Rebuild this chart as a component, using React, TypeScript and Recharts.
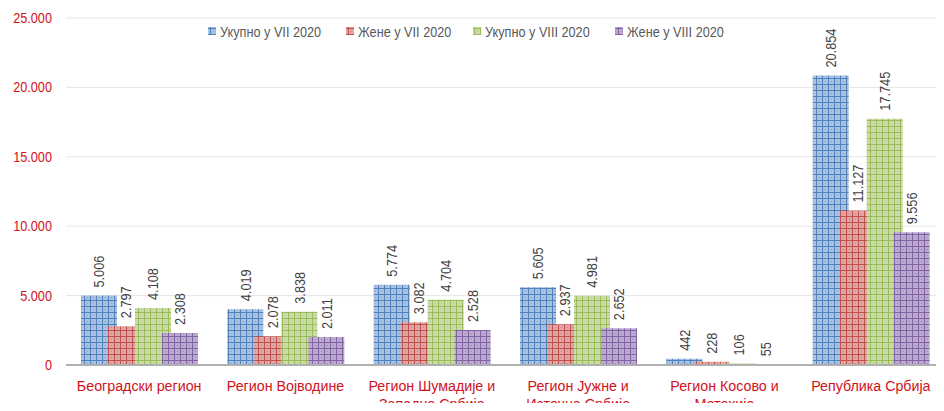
import * as React from 'react';
import { BarChart, Bar, CartesianGrid, XAxis, YAxis, Legend, LabelList } from 'recharts';

const regions = [
  'Београдски регион',
  'Регион Војводине',
  'Регион Шумадије и|Западне Србије',
  'Регион Јужне и|Источне Србије',
  'Регион Косово и|Метохија',
  'Република Србија',
];
const totalJul = [5006, 4019, 5774, 5605, 442, 20854];
const womenJul = [2797, 2078, 3082, 2937, 228, 11127];
const totalAug = [4108, 3838, 4704, 4981, 106, 17745];
const womenAug = [2308, 2011, 2528, 2652, 55, 9556];
const yTicks = [0, 5000, 10000, 15000, 20000, 25000];

const series = [
  { key: 'totalJul', name: 'Укупно у VII 2020', line: '#4f81bd', bg: '#a9c2e2', lx: 208 },
  { key: 'womenJul', name: 'Жене у VII 2020', line: '#c0504d', bg: '#e0a6a4', lx: 346 },
  { key: 'totalAug', name: 'Укупно у VIII 2020', line: '#9bbb59', bg: '#cadda8', lx: 473 },
  { key: 'womenAug', name: 'Жене у VIII 2020', line: '#8064a2', bg: '#bcaad2', lx: 615 },
];

const data = regions.map((region, i) => ({
  region,
  totalJul: totalJul[i],
  womenJul: womenJul[i],
  totalAug: totalAug[i],
  womenAug: womenAug[i],
}));

const font = "'Liberation Sans', Arial, sans-serif";
const red = '#d0121b';
const fmt = (v: number) => v.toString().replace(/\B(?=(\d{3})+(?!\d))/g, '.');

// narrow look: squeeze Liberation Sans horizontally
const RegionTick = (props: any) => {
  const { x, y, payload } = props;
  const lines = String(payload.value).split('|');
  return (
    <g transform={`translate(${x},${y}) scale(0.92,1)`}>
      <text x={0} y={0} textAnchor="middle" fill={red} fontSize={15.5} fontFamily={font}>
        {lines.map((l, i) => (
          <tspan key={i} x={0} dy={i === 0 ? 24 : 18}>
            {l}
          </tspan>
        ))}
      </text>
    </g>
  );
};

const ValueTick = (props: any) => {
  const { x, y, payload } = props;
  return (
    <g transform={`translate(${x},${y}) scale(0.82,1)`}>
      <text x={0} y={0} dy={5} textAnchor="end" fill={red} fontSize={15.5} fontFamily={font}>
        {fmt(payload.value)}
      </text>
    </g>
  );
};

const ValueLabel = (props: any) => {
  const { x, y, width, value } = props;
  const cx = x + width / 2;
  const ty = y - 8;
  return (
    <g transform={`translate(${cx},${ty}) rotate(-90) scale(0.85,1)`}>
      <text x={0} y={0} textAnchor="start" dominantBaseline="central" fill="#404040" fontSize={15} fontFamily={font}>
        {fmt(value)}
      </text>
    </g>
  );
};

const LegendContent = () => (
  <svg width={944} height={20} style={{ display: 'block' }}>
    {series.map((s) => (
      <g key={s.key}>
        <rect x={s.lx} y={5} width={8} height={8} fill={`url(#pat-${s.key})`} />
        <g transform={`translate(${s.lx + 12},14.5) scale(0.82,1)`}>
          <text x={0} y={0} fill="#595959" fontSize={15.5} fontFamily={font}>
            {s.name}
          </text>
        </g>
      </g>
    ))}
  </svg>
);

export default function App() {
  return (
    <div style={{ margin: '-8px', position: 'relative', width: 944, height: 411, overflow: 'hidden' }}>
      <div
        style={{
          position: 'absolute',
          top: -8,
          left: 0,
          width: 944,
          textAlign: 'center',
          color: red,
          fontFamily: font,
          fontWeight: 'bold',
          fontStyle: 'italic',
          fontSize: 12,
        }}
      >
        Chart No. 10 - Persons released from the unemployment register by region and sex
      </div>
      <BarChart
        width={944}
        height={411}
        data={data}
        margin={{ top: 18, right: 0, left: 0, bottom: 16 }}
        barSize={36}
        barGap={-9}
      >
        <defs>
          {series.map((s) => (
            <pattern key={s.key} id={`pat-${s.key}`} width={6} height={6} patternUnits="userSpaceOnUse">
              <rect width={6} height={6} fill={s.bg} />
              <rect x={3} y={3} width={1} height={1} fill={s.line} opacity={0.5} />
              <rect x={0} y={0} width={6} height={1} fill={s.line} />
              <rect x={0} y={0} width={1} height={6} fill={s.line} />
            </pattern>
          ))}
        </defs>
        <CartesianGrid vertical={false} stroke="#e6e6e6" />
        <XAxis
          dataKey="region"
          height={30}
          tick={<RegionTick />}
          tickLine={false}
          tickSize={0}
          axisLine={{ stroke: '#b0b0b0', strokeWidth: 2 }}
          interval={0}
        />
        <YAxis
          width={66}
          domain={[0, 25000]}
          ticks={yTicks}
          axisLine={false}
          tickLine={false}
          tickSize={0}
          tickMargin={14}
          tick={<ValueTick />}
        />
        <Legend
          layout="horizontal"
          verticalAlign="middle"
          align="center"
          content={<LegendContent />}
          wrapperStyle={{ top: 22, left: 0, width: 944 }}
        />
        {series.map((s) => (
          <Bar key={s.key} dataKey={s.key} name={s.name} fill={`url(#pat-${s.key})`} isAnimationActive={false}>
            <LabelList dataKey={s.key} content={<ValueLabel />} />
          </Bar>
        ))}
      </BarChart>
    </div>
  );
}
